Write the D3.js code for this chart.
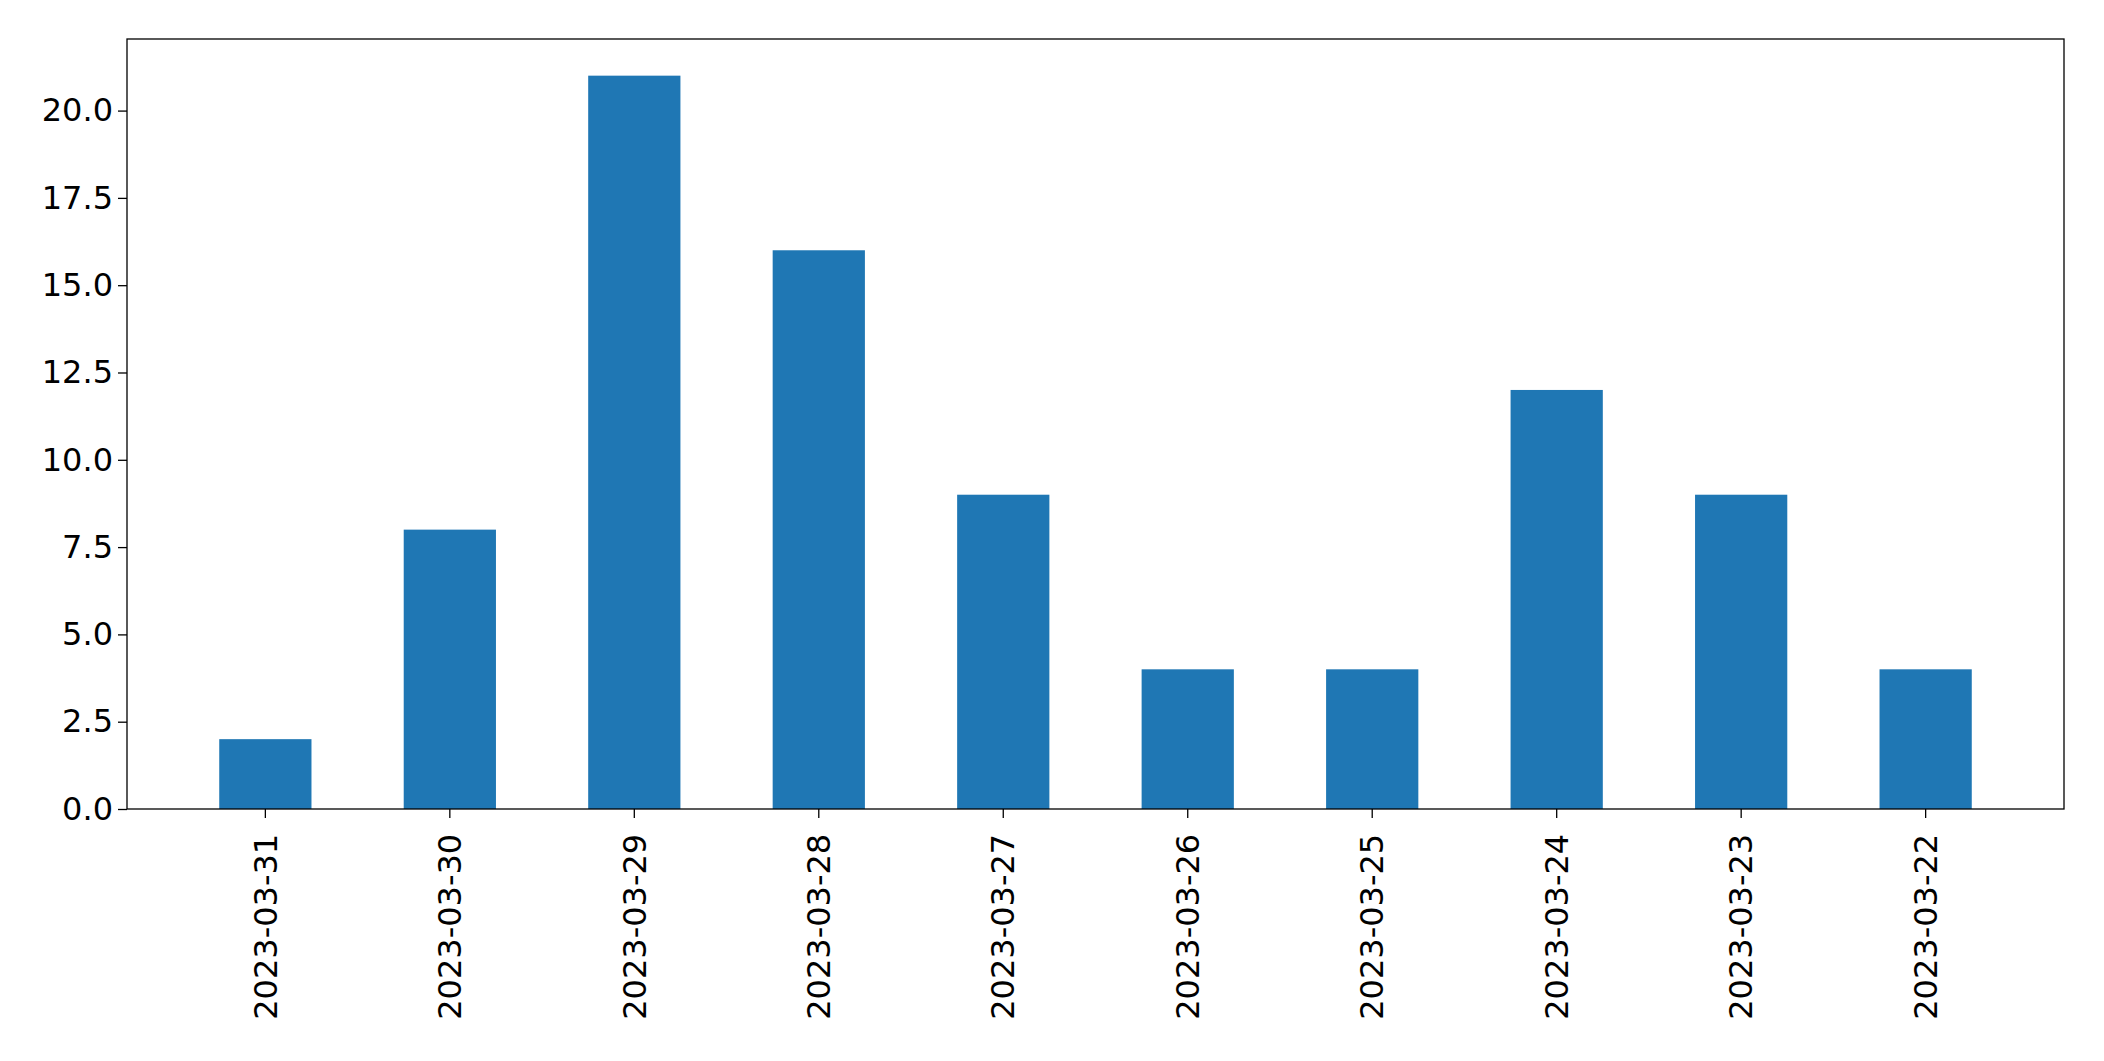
<!DOCTYPE html>
<html>
<head>
<meta charset="utf-8">
<script src="https://cdn.jsdelivr.net/npm/d3@7"></script>
<style>
  body { margin: 0; background: #fff; }
  text { font-family: "DejaVu Sans", sans-serif; }
</style>
</head>
<body>
<div id="chart"></div>
<script>
// data
const dates = ["2023-03-31", "2023-03-30", "2023-03-29", "2023-03-28", "2023-03-27",
               "2023-03-26", "2023-03-25", "2023-03-24", "2023-03-23", "2023-03-22"];
const counts = [2, 8, 21, 16, 9, 4, 4, 12, 9, 4];
const yTicks = [0, 2.5, 5, 7.5, 10, 12.5, 15, 17.5, 20];

const width = 2104, height = 1061;
const margin = {top: 39, right: 40, bottom: 252, left: 127};

const svg = d3.select("#chart").append("svg")
    .attr("width", width)
    .attr("height", height);

const x = d3.scaleBand()
    .domain(dates)
    .range([margin.left, width - margin.right])
    .padding(0.5);

const y = d3.scaleLinear()
    .domain([0, 22.05])
    .range([height - margin.bottom, margin.top]);

svg.selectAll("rect.bar")
    .data(dates)
    .enter()
    .append("rect")
    .attr("class", "bar")
    .attr("x", d => x(d))
    .attr("y", (d, i) => y(counts[i]))
    .attr("width", x.bandwidth())
    .attr("height", (d, i) => y(0) - y(counts[i]))
    .attr("fill", "#1f77b4");

// axes
const xAxis = svg.append("g")
    .attr("transform", `translate(0,${height - margin.bottom})`)
    .call(d3.axisBottom(x).tickSizeOuter(0).tickSize(9));
xAxis.selectAll("text")
    .attr("font-size", 32)
    .attr("fill", "#000")
    .attr("transform", "rotate(-90)")
    .attr("text-anchor", "end")
    .attr("dx", "-0.4em")
    .attr("dy", "0.35em")
    .attr("x", -12)
    .attr("y", 0);

const yAxis = svg.append("g")
    .attr("transform", `translate(${margin.left},0)`)
    .call(d3.axisLeft(y).tickValues(yTicks).tickFormat(d3.format(".1f")).tickSizeOuter(0).tickSize(9));
yAxis.selectAll("text")
    .attr("font-size", 32)
    .attr("fill", "#000")
    .attr("x", -14);

svg.selectAll(".domain").remove();
svg.selectAll(".tick line").attr("stroke", "#000").attr("stroke-width", 1.3);

// frame
svg.append("rect")
    .attr("x", margin.left)
    .attr("y", margin.top)
    .attr("width", width - margin.left - margin.right)
    .attr("height", height - margin.top - margin.bottom)
    .attr("fill", "none")
    .attr("stroke", "#000")
    .attr("stroke-width", 1.3);
</script>
</body>
</html>
